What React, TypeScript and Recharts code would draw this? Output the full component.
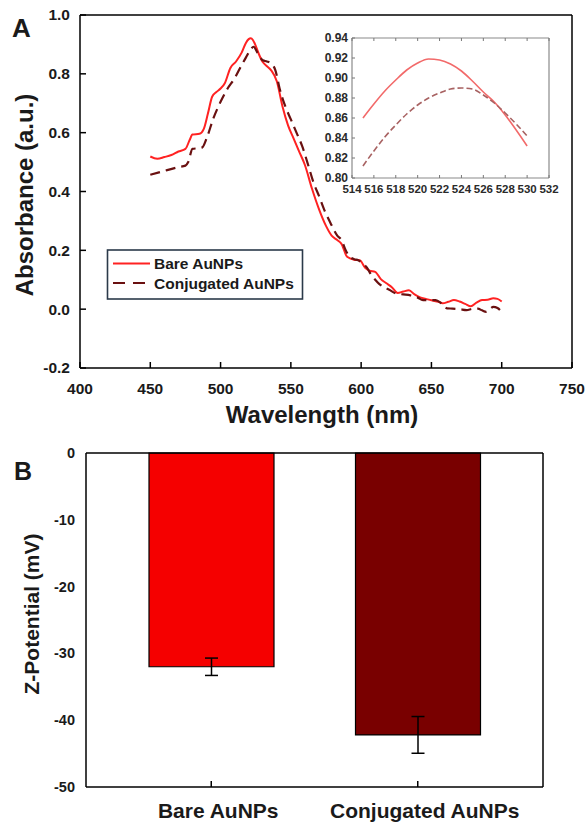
import React from "react";
import { LineChart, Line, XAxis, YAxis, BarChart, Bar, ErrorBar, Cell } from "recharts";

// ---------- Panel A: UV-Vis spectra ----------
const bareWavelengths = [450, 455, 460, 465, 470, 475, 478, 480, 485, 488, 491, 494, 497, 500, 503, 507, 511, 515, 518, 520, 521.5, 523, 525, 527, 530, 533, 536, 540, 544, 548, 552, 556, 560, 565, 570, 575, 579, 583, 586, 590, 595, 599, 603, 606, 610, 614, 618, 622, 626, 630, 634, 638, 642, 646, 650, 655, 658, 662, 666, 670, 674, 678, 682, 686, 690, 694, 697, 700];
const bareAbs = [0.519, 0.511, 0.517, 0.524, 0.536, 0.545, 0.575, 0.594, 0.596, 0.612, 0.665, 0.722, 0.738, 0.75, 0.768, 0.82, 0.842, 0.872, 0.905, 0.918, 0.921, 0.915, 0.895, 0.87, 0.84, 0.826, 0.812, 0.775, 0.69, 0.625, 0.58, 0.535, 0.49, 0.41, 0.34, 0.283, 0.25, 0.235, 0.222, 0.178, 0.168, 0.166, 0.14, 0.131, 0.127, 0.102, 0.088, 0.074, 0.055, 0.06, 0.064, 0.05, 0.04, 0.035, 0.03, 0.025, 0.02, 0.025, 0.031, 0.026, 0.018, 0.01, 0.022, 0.031, 0.032, 0.037, 0.035, 0.026];

const conjWavelengths = [450, 460, 470, 475, 477, 480, 484, 487, 490, 495, 500, 505, 510, 515, 518, 521, 523.5, 526, 528, 530, 533, 536, 539, 542, 546, 550, 554, 558, 562, 566, 570, 574, 578, 583, 586, 589, 592, 595, 598, 601, 604, 607, 610, 613, 616, 620, 625, 630, 635, 640, 644, 648, 653, 657, 661, 665, 670, 675, 679, 683, 686, 689, 692, 694, 697, 700];
const conjAbs = [0.457, 0.47, 0.483, 0.488, 0.5, 0.545, 0.547, 0.55, 0.58, 0.65, 0.705, 0.75, 0.785, 0.83, 0.855, 0.88, 0.892, 0.874, 0.858, 0.846, 0.842, 0.835, 0.812, 0.75, 0.69, 0.645, 0.6, 0.555, 0.495, 0.432, 0.385, 0.335, 0.295, 0.25, 0.235, 0.2, 0.178, 0.17, 0.166, 0.155, 0.142, 0.118, 0.1, 0.085, 0.075, 0.066, 0.053, 0.05, 0.047, 0.04, 0.031, 0.031, 0.031, 0.02, 0.003, 0.002, 0.0, -0.003, 0.001, 0.002, -0.004, -0.009, 0.002, 0.008, 0.004, -0.009];

const wlTicks = [400, 450, 500, 550, 600, 650, 700, 750];
const absTicks = [-0.2, 0, 0.2, 0.4, 0.6, 0.8, 1.0];

// inset (zoom on the plasmon peak)
const insetWavelengths = [515, 516, 517, 518, 519, 520, 521, 522, 523, 524, 525, 526, 527, 528, 529, 530];
const insetBare = [0.86, 0.874, 0.887, 0.898, 0.908, 0.915, 0.919, 0.918, 0.914, 0.907, 0.897, 0.886, 0.876, 0.863, 0.848, 0.832];
const insetConj = [0.812, 0.827, 0.841, 0.853, 0.864, 0.873, 0.88, 0.885, 0.889, 0.89, 0.889, 0.883, 0.875, 0.865, 0.854, 0.842];
const insetXTicks = [514, 516, 518, 520, 522, 524, 526, 528, 530, 532];
const insetYTicks = [0.8, 0.82, 0.84, 0.86, 0.88, 0.9, 0.92, 0.94];

const seriesNames = ["Bare AuNPs", "Conjugated AuNPs"];

// ---------- Panel B: zeta potential ----------
const zetaSamples = ["Bare AuNPs", "Conjugated AuNPs"];
const zetaMean = [-32.0, -42.2];
const zetaErr = [1.3, 2.75];
const zetaTicks = [0, -10, -20, -30, -40, -50];

const bareData = bareWavelengths.map((w, i) => ({ wl: w, v: bareAbs[i] }));
const conjData = conjWavelengths.map((w, i) => ({ wl: w, v: conjAbs[i] }));
const insetData = insetWavelengths.map((w, i) => ({ wl: w, bare: insetBare[i], conj: insetConj[i] }));
const zetaData = zetaSamples.map((s, i) => ({ name: s, value: zetaMean[i], err: zetaErr[i] }));

const FONT = "'Liberation Sans', Arial, Helvetica, sans-serif";
const BARE_RED = "#ff2222";
const CONJ_RED = "#6a1010";
const BAR_RED = "#f50000";
const BAR_DARK = "#790000";

type TickOpts = {
  len: number;
  stroke?: string;
  sw?: number;
  fmt?: (v: any) => string;
  fontSize?: number;
  offset?: number;
  dx?: number;
  fill?: string;
  skip?: number[];
};

function makeTick(side: "bottom" | "top" | "left" | "right", o: TickOpts) {
  return (props: any) => {
    const { x, y, payload } = props;
    const v = payload.value;
    const stroke = o.stroke ?? "#000";
    const sw = o.sw ?? 1.5;
    const showLine = !(o.skip && o.skip.indexOf(v) >= 0);
    let line: any = null;
    if (showLine && o.len > 0) {
      if (side === "bottom") line = <line x1={x} x2={x} y1={y} y2={y - o.len} stroke={stroke} strokeWidth={sw} />;
      if (side === "top") line = <line x1={x} x2={x} y1={y} y2={y + o.len} stroke={stroke} strokeWidth={sw} />;
      if (side === "left") line = <line x1={x} x2={x + o.len} y1={y} y2={y} stroke={stroke} strokeWidth={sw} />;
      if (side === "right") line = <line x1={x} x2={x - o.len} y1={y} y2={y} stroke={stroke} strokeWidth={sw} />;
    }
    let text: any = null;
    if (o.fmt) {
      const fs = o.fontSize ?? 14;
      const common = { fontFamily: FONT, fontWeight: 700, fontSize: fs, fill: o.fill ?? "#1a1a1a" };
      if (side === "bottom")
        text = (
          <text x={x + (o.dx ?? 0)} y={y + (o.offset ?? 20)} textAnchor="middle" {...common}>
            {o.fmt(v)}
          </text>
        );
      if (side === "left")
        text = (
          <text x={x - (o.offset ?? 8)} y={y} dy={fs * 0.35} textAnchor="end" {...common}>
            {o.fmt(v)}
          </text>
        );
    }
    return (
      <g>
        {line}
        {text}
      </g>
    );
  };
}

const axisLineBlack = { stroke: "#000", strokeWidth: 1.5 };
const axisLineGrey = { stroke: "#8a8a8a", strokeWidth: 1.2 };

function SpectraChart() {
  return (
    <LineChart width={587} height={418} margin={{ top: 14, right: 14, left: 0, bottom: 0 }}>
      <XAxis
        xAxisId="b"
        dataKey="wl"
        type="number"
        domain={[400, 750]}
        ticks={wlTicks}
        allowDataOverflow
        height={50}
        tickSize={0}
        tickMargin={0}
        axisLine={axisLineBlack}
        tickLine={false}
        tick={makeTick("bottom", { len: 6, fmt: (v) => String(v), fontSize: 15.5, offset: 26 })}
        interval={0}
      />
      <XAxis
        xAxisId="t"
        orientation="top"
        dataKey="wl"
        type="number"
        domain={[400, 750]}
        ticks={wlTicks}
        height={1}
        tickSize={0}
        tickMargin={0}
        axisLine={axisLineBlack}
        tickLine={false}
        tick={makeTick("top", { len: 6 })}
        interval={0}
      />
      <YAxis
        yAxisId="l"
        type="number"
        domain={[-0.2, 1.0]}
        ticks={absTicks}
        width={80}
        tickSize={0}
        tickMargin={0}
        axisLine={axisLineBlack}
        tickLine={false}
        tick={makeTick("left", { len: 6, fmt: (v) => v.toFixed(1), fontSize: 15.5, offset: 10 })}
        interval={0}
      />
      <YAxis
        yAxisId="r"
        orientation="right"
        type="number"
        domain={[-0.2, 1.0]}
        ticks={absTicks}
        width={1}
        tickSize={0}
        tickMargin={0}
        axisLine={axisLineBlack}
        tickLine={false}
        tick={makeTick("right", { len: 6 })}
        interval={0}
      />
      <Line
        xAxisId="b"
        yAxisId="l"
        data={bareData}
        dataKey="v"
        name={seriesNames[0]}
        type="monotone"
        stroke={BARE_RED}
        strokeWidth={2}
        dot={false}
        isAnimationActive={false}
      />
      <Line
        xAxisId="b"
        yAxisId="l"
        data={conjData}
        dataKey="v"
        name={seriesNames[1]}
        type="monotone"
        stroke={CONJ_RED}
        strokeWidth={2.2}
        strokeDasharray="10 6"
        dot={false}
        isAnimationActive={false}
      />
    </LineChart>
  );
}

function InsetChart() {
  return (
    <LineChart width={260} height={170} data={insetData} margin={{ top: 7, right: 10, left: 0, bottom: 0 }}>
      <XAxis
        xAxisId="b"
        dataKey="wl"
        type="number"
        domain={[514, 532]}
        ticks={insetXTicks}
        height={22}
        tickSize={0}
        tickMargin={0}
        axisLine={axisLineGrey}
        tickLine={false}
        tick={makeTick("bottom", { len: 3, stroke: "#777", sw: 1, fmt: (v) => String(v), fontSize: 11.5, offset: 15, fill: "#2a2a2a" })}
        interval={0}
      />
      <XAxis
        xAxisId="t"
        orientation="top"
        dataKey="wl"
        type="number"
        domain={[514, 532]}
        ticks={insetXTicks}
        height={1}
        tickSize={0}
        tickMargin={0}
        axisLine={axisLineGrey}
        tickLine={false}
        tick={makeTick("top", { len: 3, stroke: "#777", sw: 1 })}
        interval={0}
      />
      <YAxis
        yAxisId="l"
        type="number"
        domain={[0.8, 0.94]}
        ticks={insetYTicks}
        width={52}
        tickSize={0}
        tickMargin={0}
        axisLine={axisLineGrey}
        tickLine={false}
        tick={makeTick("left", { len: 3, stroke: "#777", sw: 1, fmt: (v) => v.toFixed(2), fontSize: 12, offset: 4, fill: "#2a2a2a" })}
        interval={0}
      />
      <YAxis
        yAxisId="r"
        orientation="right"
        type="number"
        domain={[0.8, 0.94]}
        ticks={insetYTicks}
        width={1}
        tickSize={0}
        tickMargin={0}
        axisLine={axisLineGrey}
        tickLine={false}
        tick={makeTick("right", { len: 3, stroke: "#777", sw: 1 })}
        interval={0}
      />
      <Line
        xAxisId="b"
        yAxisId="l"
        dataKey="bare"
        name={seriesNames[0]}
        type="monotone"
        stroke="#f26a6a"
        strokeWidth={1.6}
        dot={false}
        isAnimationActive={false}
      />
      <Line
        xAxisId="b"
        yAxisId="l"
        dataKey="conj"
        name={seriesNames[1]}
        type="monotone"
        stroke="#a86262"
        strokeWidth={1.6}
        strokeDasharray="6 3"
        dot={false}
        isAnimationActive={false}
      />
    </LineChart>
  );
}

function ZetaChart() {
  const barColors = [BAR_RED, BAR_DARK];
  return (
    <BarChart width={587} height={392} data={zetaData} margin={{ top: 22, right: 43, left: 0, bottom: 0 }}>
      <XAxis
        xAxisId="b"
        dataKey="name"
        type="category"
        padding={{ left: 22, right: 22 }}
        height={35}
        tickSize={0}
        tickMargin={0}
        axisLine={axisLineBlack}
        tickLine={false}
        tick={makeTick("bottom", { len: 6, fmt: (v: any) => String(v), fontSize: 21, offset: 31, dx: 7 })}
        interval={0}
      />
      <XAxis
        xAxisId="t"
        orientation="top"
        dataKey="name"
        type="category"
        height={1}
        tickSize={0}
        tickMargin={0}
        axisLine={axisLineBlack}
        tickLine={false}
        tick={false}
      />
      <YAxis
        yAxisId="l"
        type="number"
        domain={[-50, 0]}
        ticks={zetaTicks}
        width={86}
        tickSize={0}
        tickMargin={0}
        axisLine={axisLineBlack}
        tickLine={false}
        tick={makeTick("left", { len: 0, fmt: (v) => String(v), fontSize: 14.5, offset: 11 })}
        interval={0}
      />
      <YAxis
        yAxisId="r"
        orientation="right"
        type="number"
        domain={[-50, 0]}
        ticks={zetaTicks}
        width={1}
        tickSize={0}
        tickMargin={0}
        axisLine={axisLineBlack}
        tickLine={false}
        tick={makeTick("right", { len: 5, skip: [0, -50] })}
        interval={0}
      />
      <Bar xAxisId="b" yAxisId="l" dataKey="value" barSize={125} stroke="#000" strokeWidth={1.2} isAnimationActive={false}>
        {zetaData.map((d, i) => (
          <Cell key={d.name} fill={barColors[i]} />
        ))}
        <ErrorBar dataKey="err" width={6.5} stroke="#000" strokeWidth={1.5} direction="y" />
      </Bar>
    </BarChart>
  );
}

function Overlay() {
  const bold = { fontFamily: FONT, fontWeight: 700, fill: "#1a1a1a" } as const;
  return (
    <svg width={587} height={822} style={{ position: "absolute", left: 0, top: 0, pointerEvents: "none" }}>
      <text x={12} y={37} fontSize={26} {...bold}>A</text>
      <text x={14} y={480} fontSize={25} {...bold}>B</text>
      <text x={322} y={423} fontSize={24} textAnchor="middle" {...bold}>Wavelength (nm)</text>
      <text transform="translate(33,195) rotate(-90)" fontSize={24} textAnchor="middle" {...bold}>Absorbance (a.u.)</text>
      <text transform="translate(39,614) rotate(-90)" fontSize={21} textAnchor="middle" {...bold}>Z-Potential (mV)</text>
      {/* legend */}
      <rect x={107.5} y={250} width={195} height={49} fill="#fff" stroke="#2b3a4a" strokeWidth={1.6} />
      <line x1={113} x2={150} y1={263.5} y2={263.5} stroke={BARE_RED} strokeWidth={2} />
      <line x1={113} x2={147} y1={283} y2={283} stroke={CONJ_RED} strokeWidth={2.2} strokeDasharray="12 8" />
      <text x={154} y={269} fontSize={15.5} {...bold}>{seriesNames[0]}</text>
      <text x={154} y={288.5} fontSize={15.5} {...bold}>{seriesNames[1]}</text>
    </svg>
  );
}

export default function App() {
  return (
    <div style={{ position: "absolute", left: 0, top: 0, width: 587, height: 822, background: "#fff", overflow: "hidden" }}>
      <div style={{ position: "absolute", left: 0, top: 0 }}>
        <SpectraChart />
      </div>
      <div style={{ position: "absolute", left: 300, top: 30 }}>
        <InsetChart />
      </div>
      <div style={{ position: "absolute", left: 0, top: 430 }}>
        <ZetaChart />
      </div>
      <Overlay />
    </div>
  );
}
